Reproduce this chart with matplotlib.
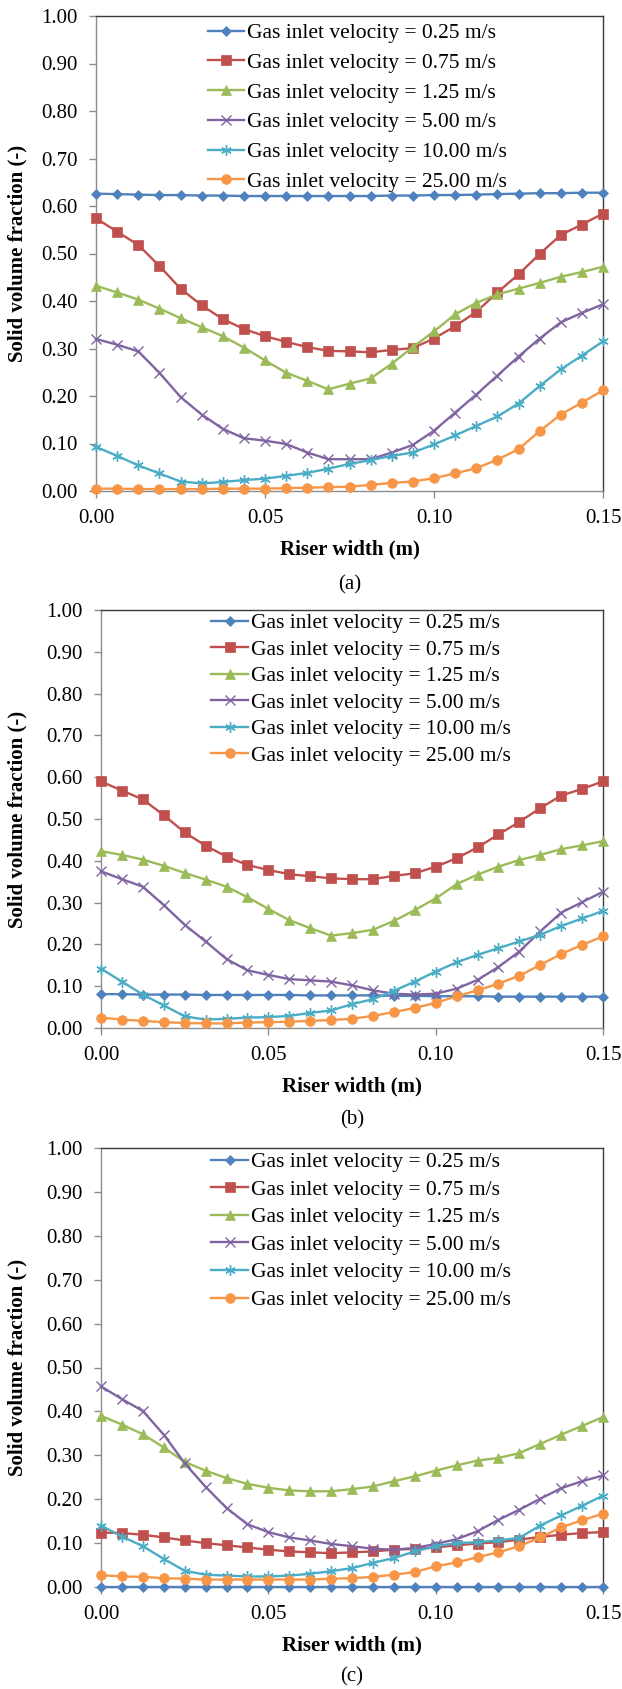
import matplotlib
matplotlib.use("Agg")
import matplotlib.pyplot as plt

# Riser width positions (m)
x_pos = [0.0, 0.00625, 0.0125, 0.01875, 0.025, 0.03125, 0.0375, 0.04375, 0.05,
         0.05625, 0.0625, 0.06875, 0.075, 0.08125, 0.0875, 0.09375, 0.1, 0.10625,
         0.1125, 0.11875, 0.125, 0.13125, 0.1375, 0.14375, 0.15]

series_labels = ["Gas inlet velocity = 0.25 m/s", "Gas inlet velocity = 0.75 m/s",
                 "Gas inlet velocity = 1.25 m/s", "Gas inlet velocity = 5.00 m/s",
                 "Gas inlet velocity = 10.00 m/s", "Gas inlet velocity = 25.00 m/s"]

# ---- panel (a) ----
a_v025 = [0.626, 0.625, 0.624, 0.623, 0.623, 0.622, 0.622, 0.621, 0.621, 0.621, 0.621, 0.621,
          0.621, 0.621, 0.622, 0.622, 0.623, 0.623, 0.624, 0.625, 0.626, 0.627, 0.627, 0.628, 0.628]
a_v075 = [0.574, 0.546, 0.518, 0.474, 0.426, 0.391, 0.362, 0.341, 0.326, 0.314, 0.303, 0.295,
          0.294, 0.292, 0.297, 0.301, 0.321, 0.347, 0.377, 0.418, 0.456, 0.499, 0.539, 0.561, 0.584]
a_v125 = [0.432, 0.418, 0.403, 0.384, 0.364, 0.345, 0.326, 0.302, 0.275, 0.249, 0.232, 0.214,
          0.226, 0.237, 0.268, 0.303, 0.336, 0.372, 0.396, 0.414, 0.426, 0.438, 0.451, 0.461, 0.472]
a_v500 = [0.320, 0.308, 0.294, 0.249, 0.198, 0.161, 0.131, 0.111, 0.106, 0.099, 0.081, 0.067,
          0.067, 0.067, 0.081, 0.097, 0.127, 0.165, 0.203, 0.243, 0.283, 0.321, 0.355, 0.375, 0.393]
a_v1000 = [0.093, 0.074, 0.054, 0.037, 0.020, 0.016, 0.019, 0.023, 0.026, 0.032, 0.038, 0.047,
           0.057, 0.065, 0.074, 0.081, 0.098, 0.117, 0.137, 0.157, 0.184, 0.221, 0.256, 0.285, 0.315]
a_v2500 = [0.005, 0.005, 0.004, 0.004, 0.004, 0.004, 0.005, 0.005, 0.005, 0.006, 0.007, 0.008,
           0.009, 0.013, 0.017, 0.020, 0.027, 0.037, 0.048, 0.066, 0.088, 0.126, 0.161, 0.186, 0.212]

# ---- panel (b) ----
b_v025 = [0.081, 0.081, 0.080, 0.080, 0.080, 0.079, 0.079, 0.079, 0.079, 0.079, 0.078, 0.078,
          0.078, 0.078, 0.077, 0.077, 0.076, 0.076, 0.076, 0.075, 0.075, 0.075, 0.075, 0.075, 0.075]
b_v075 = [0.590, 0.568, 0.547, 0.509, 0.468, 0.436, 0.410, 0.390, 0.378, 0.368, 0.363, 0.358,
          0.356, 0.356, 0.364, 0.370, 0.386, 0.406, 0.432, 0.463, 0.493, 0.526, 0.556, 0.572, 0.590]
b_v125 = [0.423, 0.414, 0.403, 0.388, 0.371, 0.355, 0.338, 0.313, 0.285, 0.258, 0.239, 0.221,
          0.227, 0.235, 0.256, 0.282, 0.310, 0.344, 0.367, 0.386, 0.402, 0.414, 0.428, 0.437, 0.447]
b_v500 = [0.375, 0.356, 0.338, 0.294, 0.247, 0.207, 0.165, 0.138, 0.127, 0.117, 0.114, 0.111,
          0.102, 0.090, 0.082, 0.080, 0.082, 0.094, 0.115, 0.146, 0.183, 0.231, 0.276, 0.301, 0.326]
b_v1000 = [0.142, 0.111, 0.080, 0.054, 0.028, 0.020, 0.022, 0.025, 0.026, 0.029, 0.036, 0.042,
           0.057, 0.069, 0.089, 0.111, 0.135, 0.157, 0.175, 0.191, 0.207, 0.223, 0.244, 0.262, 0.280]
b_v2500 = [0.025, 0.020, 0.017, 0.014, 0.012, 0.011, 0.011, 0.013, 0.014, 0.015, 0.017, 0.019,
           0.022, 0.029, 0.038, 0.048, 0.060, 0.076, 0.090, 0.106, 0.125, 0.151, 0.177, 0.199, 0.219]

# ---- panel (c) ----
c_v025 = [0.0, 0.0, 0.0, 0.0, 0.0, 0.0, 0.0, 0.0, 0.0, 0.0, 0.0, 0.0,
          0.0, 0.0, 0.0, 0.0, 0.0, 0.0, 0.0, 0.0, 0.0, 0.0, 0.0, 0.0, 0.0]
c_v075 = [0.124, 0.123, 0.119, 0.113, 0.106, 0.100, 0.095, 0.090, 0.085, 0.081, 0.079, 0.077,
          0.079, 0.081, 0.085, 0.087, 0.090, 0.095, 0.099, 0.102, 0.108, 0.114, 0.119, 0.123, 0.125]
c_v125 = [0.390, 0.370, 0.348, 0.318, 0.285, 0.265, 0.248, 0.235, 0.226, 0.220, 0.218, 0.218,
          0.223, 0.229, 0.241, 0.252, 0.265, 0.277, 0.288, 0.294, 0.305, 0.326, 0.347, 0.367, 0.387]
c_v500 = [0.457, 0.428, 0.401, 0.347, 0.282, 0.228, 0.180, 0.143, 0.125, 0.113, 0.106, 0.098,
          0.093, 0.087, 0.085, 0.089, 0.098, 0.109, 0.127, 0.153, 0.176, 0.201, 0.225, 0.241, 0.254]
c_v1000 = [0.140, 0.115, 0.093, 0.064, 0.037, 0.028, 0.026, 0.024, 0.024, 0.026, 0.030, 0.036,
           0.043, 0.055, 0.066, 0.081, 0.093, 0.100, 0.102, 0.106, 0.112, 0.140, 0.163, 0.185, 0.208]
c_v2500 = [0.027, 0.024, 0.023, 0.020, 0.019, 0.017, 0.017, 0.017, 0.017, 0.017, 0.017, 0.019,
           0.020, 0.023, 0.028, 0.034, 0.047, 0.056, 0.068, 0.079, 0.093, 0.113, 0.136, 0.152, 0.167]

x_ticks = [0.0, 0.05, 0.10, 0.15]
y_ticks = [0.0, 0.1, 0.2, 0.3, 0.4, 0.5, 0.6, 0.7, 0.8, 0.9, 1.0]

# Excel 2010 style colours and markers
colors = ["#4F81BD", "#C0504D", "#9BBB59", "#8064A2", "#4BACC6", "#F79646"]
markers = ["D", "s", "^", "x", (6, 2, 0), "o"]
msizes = [5.5, 6.5, 7.5, 6.5, 7.5, 7]

FONT = "Liberation Serif"


def style_axes(ax):
    ax.set_xlim(0, 0.15)
    ax.set_ylim(0, 1.0)
    ax.set_xticks(x_ticks)
    ax.set_yticks(y_ticks)
    ax.set_xticklabels(["%.2f" % v for v in x_ticks])
    ax.set_yticklabels(["%.2f" % v for v in y_ticks])
    ax.tick_params(direction="out", length=5, width=1, color="#8c8c8c",
                   labelsize=15, labelcolor="black")
    ax.tick_params(axis="y", pad=8)
    ax.tick_params(axis="x", pad=8)
    for lab in ax.get_xticklabels() + ax.get_yticklabels():
        lab.set_fontfamily(FONT)
    ax.spines["left"].set_color("#8c8c8c")
    ax.spines["bottom"].set_color("#8c8c8c")
    ax.spines["top"].set_color("#3a3a3a")
    ax.spines["right"].set_color("#3a3a3a")
    for s in ax.spines.values():
        s.set_linewidth(1.0)


def draw_panel(fig, rect, data, leg_y, leg_spacing, ylab_x, xlab_y):
    ax = fig.add_axes(rect)
    for i, y in enumerate(data):
        mew = 1.0 if i in (3, 4) else 0.5
        ax.plot(x_pos, y, color=colors[i], marker=markers[i], markersize=msizes[i],
                markeredgewidth=mew, linewidth=1.7, label=series_labels[i], clip_on=False,
                zorder=3 + i)
    style_axes(ax)
    ax.set_ylabel("Solid volume fraction (-)", fontsize=15, fontweight="bold", family=FONT)
    ax.set_xlabel("Riser width (m)", fontsize=15, fontweight="bold", family=FONT)
    ax.yaxis.set_label_coords(ylab_x, 0.5)
    ax.xaxis.set_label_coords(0.5, xlab_y)
    ax.legend(loc="upper left", bbox_to_anchor=(0.22, leg_y), frameon=False,
              prop={"family": FONT, "size": 15.5}, handlelength=1.7, handletextpad=0.15,
              labelspacing=leg_spacing, borderpad=0, borderaxespad=0, numpoints=1)
    return ax


def main():
    W, H = 622, 1689
    fig = plt.figure(figsize=(W / 100, H / 100), dpi=100)

    # data, left, right, top, bottom (px), legend offset, legend spacing, tag y, tag
    panels = [
        ([a_v025, a_v075, a_v125, a_v500, a_v1000, a_v2500], 96, 603, 16, 491, 7, 0.45, 585, "(a)"),
        ([b_v025, b_v075, b_v125, b_v500, b_v1000, b_v2500], 101, 603, 610, 1028, 3, 0.30, 1120, "(b)"),
        ([c_v025, c_v075, c_v125, c_v500, c_v1000, c_v2500], 101, 603, 1148, 1587, 4, 0.35, 1677, "(c)"),
    ]

    for data, left, right, top, bottom, off, ls, lab_y, tag in panels:
        w = right - left
        h = bottom - top
        rect = [left / W, 1 - bottom / H, w / W, h / H]
        draw_panel(fig, rect, data, 1 - off / h, ls, (27 - left) / w, -48 / h)
        fig.text((left + right) / 2 / W, 1 - lab_y / H, tag, ha="center", va="center",
                 fontsize=15, family=FONT)

    fig.savefig("out.png", dpi=100)


if __name__ == "__main__":
    main()
